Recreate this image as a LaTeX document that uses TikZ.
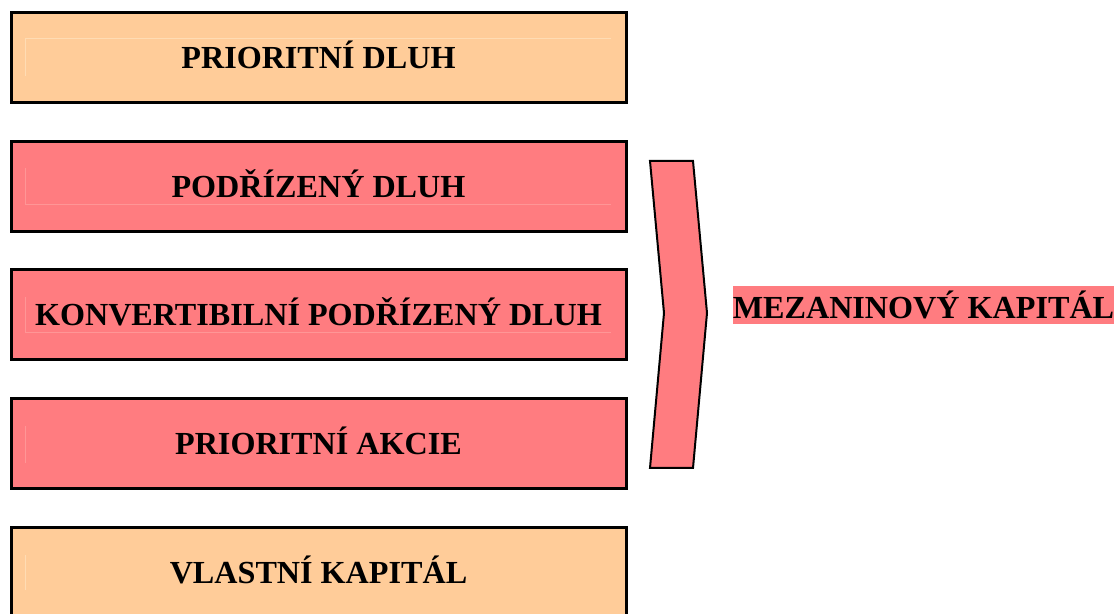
\documentclass[tikz,border=0pt]{standalone}
\usepackage{fontspec}
\setmainfont{Liberation Serif}
\definecolor{peach}{RGB}{255,204,153}
\definecolor{rose}{RGB}{255,124,128}
\definecolor{peachline}{RGB}{255,220,180}
\definecolor{roseline}{RGB}{255,150,150}
\begin{document}
\begin{tikzpicture}[x=0.02cm,y=-0.02cm,
  layer/.style={draw=black,line width=3*0.02cm,minimum width=615*0.02cm,minimum height=90*0.02cm,
    inner sep=0pt,text height=12.1pt,text depth=0pt,
    font=\fontsize{18.3}{22}\selectfont\bfseries,anchor=center},
  senior/.style={layer,fill=peach},
  mezz/.style={layer,fill=rose},
  ghost/.style={line width=0.02cm}]
\useasboundingbox (0,0) rectangle (1116,614);
\begin{scope}
\clip (0,0) rectangle (1116,614);
\node[senior] (b1) at (318.5,58) {PRIORITNÍ DLUH};
\node[mezz] (b2) at (318.5,186.7) {PODŘÍZENÝ DLUH};
\node[mezz] (b3) at (318.5,315) {KONVERTIBILNÍ PODŘÍZENÝ DLUH};
\node[mezz] (b4) at (318.5,444) {PRIORITNÍ AKCIE};
\node[senior] (b5) at (318.5,573) {VLASTNÍ KAPITÁL};
\end{scope}
% faint text-frame traces
\draw[ghost,draw=peachline] (25,76) -- (25,39) -- (611,39);
\draw[ghost,draw=roseline] (25,168) -- (25,205) -- (611,205);
\draw[ghost,draw=roseline] (25,297) -- (25,333) -- (611,333);
\draw[ghost,draw=roseline] (25,426) -- (25,463);
\draw[ghost,draw=peachline] (25,555) -- (25,590);
% chevron
\draw[fill=rose,draw=black,line width=2*0.02cm,line join=miter]
  (650,161) -- (693,161) -- (707,313) -- (693,468) -- (650,468) -- (664,313) -- cycle;
\node[fill=rose,inner xsep=0pt,inner ysep=0pt,minimum height=38*0.02cm,
  font=\fontsize{18.3}{22}\selectfont\bfseries] (mk) at (923.5,305) {MEZANINOVÝ KAPITÁL};
\end{tikzpicture}
\end{document}
